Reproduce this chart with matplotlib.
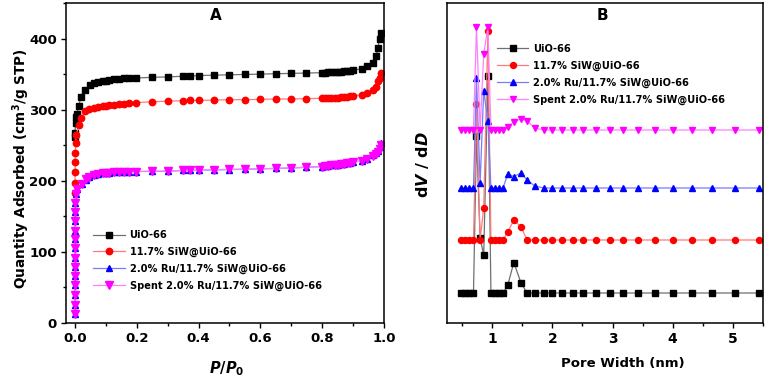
import matplotlib
matplotlib.use("Agg")
import matplotlib.pyplot as plt
from matplotlib.ticker import MultipleLocator, NullLocator

plt.rcParams['font.family'] = ['DejaVu Sans']
plt.rcParams['font.weight'] = 'bold'
plt.rcParams['axes.labelweight'] = 'bold'
plt.rcParams['mathtext.fontset'] = 'custom'
plt.rcParams['mathtext.rm'] = 'DejaVu Sans:bold'
plt.rcParams['mathtext.it'] = 'DejaVu Sans:italic:bold'
plt.rcParams['mathtext.bf'] = 'DejaVu Sans:bold'

# ---------------------------------------------------------------- data
names = ['UiO-66', '11.7% SiW@UiO-66', '2.0% Ru/11.7% SiW@UiO-66',
         'Spent 2.0% Ru/11.7% SiW@UiO-66']

# panel A - isotherms, steep low-pressure part per sample
p_low_uio = [0.0, 0.0, 0.002, 0.004, 0.007, 0.013, 0.019, 0.032, 0.048]
q_low_uio = [262, 267, 281, 290, 294, 305.5, 318.5, 328, 334.5]
p_low_siw = [0.0, 0.0, 0.0005, 0.001, 0.0015, 0.002, 0.004, 0.013, 0.021, 0.034, 0.046]
q_low_siw = [183, 197, 213, 227, 239, 253, 265, 278, 288, 298.5, 301]
p_low_ru = [0.0, 0.0, 0.0, 0.0, 0.0, 0.0, 0.0, 0.0, 0.0, 0.0005, 0.0005, 0.001,
            0.001, 0.002, 0.005, 0.022, 0.035, 0.046]
q_low_ru = [13, 26, 40, 53, 66, 79, 92, 105, 117.5, 130, 143, 156, 169, 181.5,
            188.5, 195, 201.5, 205]
p_low_spent = p_low_ru
q_low_spent = [13, 26, 40, 53, 66, 79, 92, 105, 117.5, 130, 143, 156, 169, 182,
               189, 195.5, 202, 205.5]

# common plateau grid
p_plateau = [0.06, 0.076, 0.09, 0.10, 0.11, 0.127, 0.143, 0.159, 0.176, 0.197,
             0.249, 0.30, 0.348, 0.373, 0.40, 0.449, 0.50, 0.549, 0.60, 0.649,
             0.70, 0.749, 0.80, 0.81, 0.82, 0.83, 0.84, 0.85, 0.86, 0.87,
             0.88, 0.89, 0.90, 0.93, 0.945, 0.965, 0.975, 0.98, 0.986, 0.99]
q_plat_uio = [337, 339.5, 340.5, 341, 342, 342.5, 343.5, 344, 344, 344.5,
              345.5, 346, 347, 347, 348, 348.5, 349, 349.5, 350, 350.5,
              351, 351.5, 352, 352, 352.5, 352.5, 353, 353, 353.5, 354,
              354.5, 355, 355.5, 357.5, 361, 366, 375, 387, 400, 408]
q_plat_siw = [303, 304, 305, 305.5, 306, 307, 308, 308.5, 309, 310,
              311, 312, 312.5, 313, 313, 313.5, 314, 314, 314.5, 315,
              315, 315.5, 316, 316, 316.5, 316.5, 317, 317, 317.5, 318,
              318.5, 319, 319.5, 321, 324, 328, 332, 340, 345, 351]
q_plat_ru = [207.7, 209.5, 210.5, 211, 211.5, 212, 212.3, 212.5, 212.8, 213,
             213.2, 213.5, 214.5, 214.5, 215, 215.3, 215.7, 216.2, 216.7, 217.3,
             218, 219, 220, 220.5, 221, 221.5, 222, 222.5, 223, 223.6,
             224.5, 225.5, 226.5, 228, 231, 236, 239, 242, 247, 253]
q_plat_spent = [208, 209.5, 210.5, 211, 211.5, 212, 212.5, 212.5, 213, 213,
                213.5, 213.5, 214.5, 214.5, 215, 215.5, 216, 216.5, 217, 217.5,
                218, 219, 220, 220.5, 221, 221.5, 222, 222.5, 223, 223.5,
                224.5, 225.5, 226, 228, 231, 235, 238, 241, 245, 250]

# panel B - pore size distribution (a.u.), curves stacked by offsets
pore_width = [0.49, 0.55, 0.62, 0.69, 0.74, 0.80, 0.86, 0.93, 0.98, 1.05, 1.11,
              1.18, 1.26, 1.36, 1.48, 1.58, 1.71, 1.86, 2.0, 2.16, 2.34, 2.51,
              2.73, 2.95, 3.18, 3.43, 3.70, 4.0, 4.32, 4.66, 5.04, 5.43]
dvdd_uio = [0, 0, 0, 0, 157, 55, 38, 217, 0, 0, 0, 0, 8, 30.5, 10, 0,
            0, 0, 0, 0, 0, 0, 0, 0, 0, 0, 0, 0, 0, 0, 0, 0]
dvdd_siw = [0, 0, 0, 0, 136, 0, 32, 209, 0, 0, 0, 0, 8, 20, 13, 0,
            0, 0, 0, 0, 0, 0, 0, 0, 0, 0, 0, 0, 0, 0, 0, 0]
dvdd_ru = [0, 0, 0, 0, 110, 5, 97, 67, 0, 0, 0, 0, 14, 11.5, 15, 8,
           2, 0, 0, 0, 0, 0, 0, 0, 0, 0, 0, 0, 0, 0, 0, 0]
dvdd_spent = [0, 0, 0, 0, 103, 0, 76, 103, 0, 0, 0, 0, 3, 8, 11.5, 9,
              2, 0, 0, 0, 0, 0, 0, 0, 0, 0, 0, 0, 0, 0, 0, 0]
offsets = [30, 83, 135, 193]

# ---------------------------------------------------------------- style
marker_colors = ['#000000', '#ff0000', '#0000ff', '#ff00ff']
line_colors = ['#707070', '#ff7a7a', '#7a7aff', '#ff80ff']
markers = ['s', 'o', '^', 'v']
msizes = [4.3, 4.6, 5.0, 5.2]

iso_p = [p_low_uio + p_plateau, p_low_siw + p_plateau,
         p_low_ru + p_plateau, p_low_spent + p_plateau]
iso_q = [q_low_uio + q_plat_uio, q_low_siw + q_plat_siw,
         q_low_ru + q_plat_ru, q_low_spent + q_plat_spent]
psd = [dvdd_uio, dvdd_siw, dvdd_ru, dvdd_spent]

fig = plt.figure(figsize=(7.65, 3.78), dpi=100)
axA = fig.add_axes([66 / 765, 55 / 378, 318 / 765, 320 / 378])
axB = fig.add_axes([447 / 765, 55 / 378, 316 / 765, 320 / 378])

for i in range(4):
    axA.plot(iso_p[i], iso_q[i], color=line_colors[i], lw=0.9,
             marker=markers[i], ms=msizes[i], mfc=marker_colors[i],
             mec=marker_colors[i], label=names[i])
    y = [v + offsets[i] for v in psd[i]]
    axB.plot(pore_width, y, color=line_colors[i], lw=0.9,
             marker=markers[i], ms=msizes[i] - 0.3, mfc=marker_colors[i],
             mec=marker_colors[i], label=names[i])

# panel A axes
axA.set_xlim(-0.029, 1.0)
axA.set_ylim(0, 450)
axA.xaxis.set_major_locator(MultipleLocator(0.2))
axA.xaxis.set_minor_locator(MultipleLocator(0.1))
axA.yaxis.set_major_locator(MultipleLocator(100))
axA.yaxis.set_minor_locator(MultipleLocator(50))
axA.xaxis.set_major_formatter(plt.FormatStrFormatter('%.1f'))
axA.tick_params(which='both', direction='out', width=1, labelsize=9.5, pad=3)
axA.tick_params(which='major', length=3.5)
axA.tick_params(which='minor', length=2)
axA.set_xlabel(r'$P/P_\mathit{0}$', fontsize=10.5)
axA.xaxis.set_label_coords(0.506, -0.115)
axA.set_ylabel(r'Quantity Adsorbed (cm$^3$/g STP)', fontsize=9.8)
axA.yaxis.set_label_coords(-0.108, 0.483)
axA.text(0.47, 0.96, 'A', transform=axA.transAxes, ha='center', va='center',
         fontsize=11)
axA.legend(loc='upper left', bbox_to_anchor=(0.085, 0.29), frameon=False,
           fontsize=7.1, handlelength=3.2, handletextpad=0.5, numpoints=1,
           labelspacing=0.68, borderpad=0, borderaxespad=0)

# panel B axes
axB.set_xlim(0.25, 5.5)
axB.set_ylim(0, 320)
axB.xaxis.set_major_locator(MultipleLocator(1))
axB.xaxis.set_minor_locator(MultipleLocator(0.5))
axB.yaxis.set_major_locator(NullLocator())
axB.tick_params(which='both', direction='out', width=1, labelsize=10, pad=3)
axB.tick_params(which='major', length=3.5)
axB.tick_params(which='minor', length=2)
axB.set_xlabel('Pore Width (nm)', fontsize=9.5)
axB.xaxis.set_label_coords(0.557, -0.105)
axB.set_ylabel(r'd$V$ / d$D$', fontsize=11.5)
axB.yaxis.set_label_coords(-0.05, 0.495)
axB.text(0.493, 0.96, 'B', transform=axB.transAxes, ha='center', va='center',
         fontsize=11)
axB.legend(loc='upper left', bbox_to_anchor=(0.158, 0.873), frameon=False,
           fontsize=7.1, handlelength=3.2, handletextpad=0.5, numpoints=1,
           labelspacing=0.68, borderpad=0, borderaxespad=0)

for ax in (axA, axB):
    for s in ax.spines.values():
        s.set_linewidth(1.1)

fig.savefig('out.png', dpi=100)
